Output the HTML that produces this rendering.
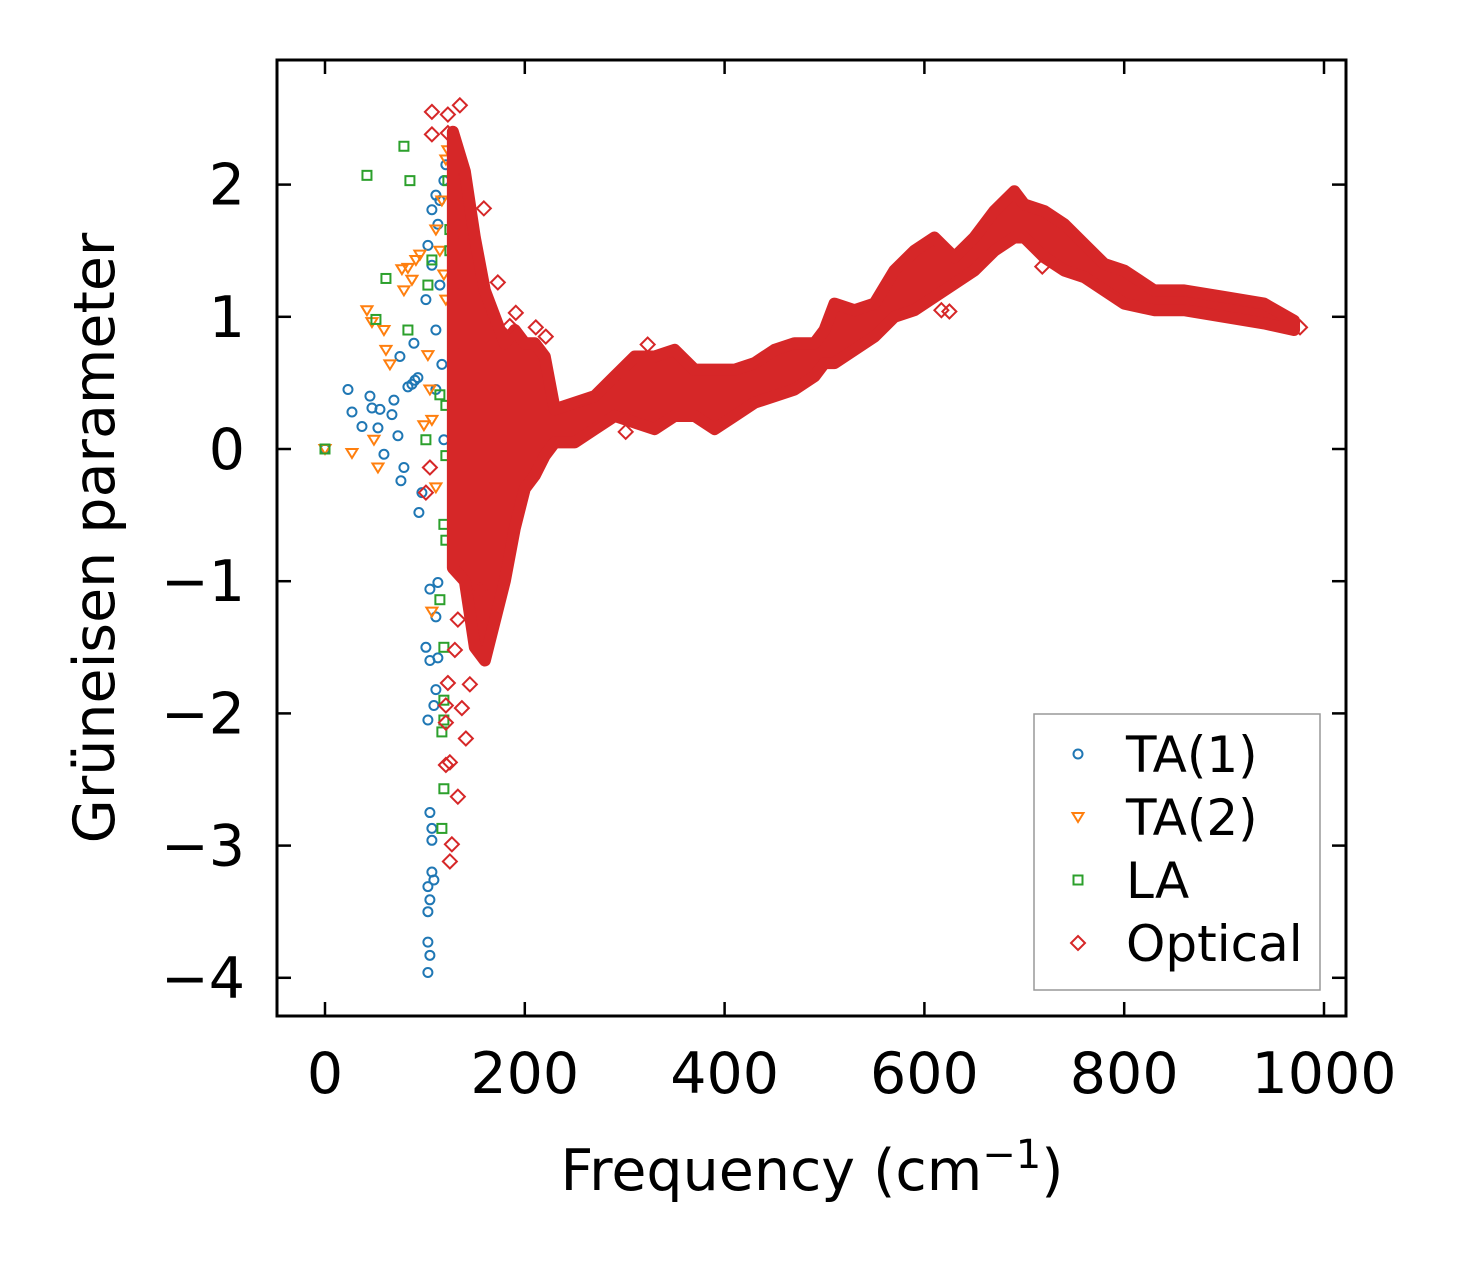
<!DOCTYPE html>
<html><head><meta charset="utf-8">
<style>
html,body{margin:0;padding:0;background:#fff;}
svg{display:block;font-family:"DejaVu Sans","Liberation Sans",sans-serif;}
</style></head>
<body>
<svg id="chart" width="1458" height="1264" viewBox="0 0 1458 1264" xmlns="http://www.w3.org/2000/svg">
<rect x="0" y="0" width="1458" height="1264" fill="#fff"/>
<g id="marks"></g>
<g id="axes"></g>
</svg>
<script>
const xTicks=[0,200,400,600,800,1000];
const yTicks=[-4,-3,-2,-1,0,1,2];
const yTickLabels=["\u22124","\u22123","\u22122","\u22121","0","1","2"];
const ta1=[[0,0],[23,0.45],[27,0.28],[37,0.17],[45,0.4],[47,0.31],[55,0.3],[53,0.16],[59,-0.04],[67,0.26],[69,0.37],[75,0.7],[73,0.1],[79,-0.14],[76,-0.24],[83,0.47],[87,0.49],[90,0.52],[93,0.54],[89,0.8],[94,-0.48],[97,-0.33],[101,1.13],[103,1.54],[107,1.39],[107,1.81],[111,1.92],[113,1.7],[115,1.24],[117,0.64],[119,0.07],[105,-1.06],[113,-1.01],[111,-1.27],[101,-1.5],[105,-1.6],[113,-1.58],[111,-1.82],[103,-2.05],[109,-1.94],[105,-2.75],[107,-2.96],[109,-3.26],[103,-3.31],[105,-3.41],[103,-3.5],[103,-3.73],[105,-3.83],[103,-3.96],[107,-3.2],[107,-2.87],[111,0.45],[111,0.9],[115,1.88],[119,2.03],[121,2.15]];
const ta2=[[0,0],[27,-0.03],[42,1.05],[47,0.96],[53,-0.14],[49,0.07],[59,0.9],[61,0.75],[65,0.64],[77,1.36],[83,1.37],[79,1.2],[87,1.28],[91,1.43],[95,1.47],[99,0.18],[103,0.71],[105,0.45],[107,-1.23],[111,-0.29],[111,1.66],[115,1.5],[119,1.32],[121,2.19],[123,2.26],[121,1.13],[117,1.88],[107,0.22]];
const la=[[0,0],[42,2.07],[79,2.29],[85,2.03],[61,1.29],[51,0.98],[83,0.9],[103,1.24],[107,1.43],[101,0.07],[115,0.41],[121,0.33],[121,-0.05],[119,-0.57],[121,-0.69],[119,-1.5],[119,-1.9],[119,-2.05],[117,-2.14],[119,-2.57],[117,-2.87],[125,1.66],[125,1.5],[123,2.03],[115,-1.14]];
const opticalFreq=[128,140,150,160,170,180,190,200,210,220,230,250,270,290,310,330,350,370,390,410,430,450,470,490,500,510,530,550,570,590,610,630,650,670,690,700,720,740,760,780,800,830,860,900,940,970];
const opticalLow=[-0.9,-1.0,-1.5,-1.6,-1.3,-1.0,-0.6,-0.3,-0.2,-0.05,0.05,0.05,0.15,0.25,0.2,0.15,0.25,0.25,0.15,0.25,0.35,0.4,0.45,0.55,0.65,0.65,0.75,0.85,1.0,1.05,1.15,1.25,1.35,1.5,1.6,1.6,1.45,1.35,1.3,1.2,1.1,1.05,1.05,1.0,0.95,0.9];
const opticalHigh=[2.4,2.1,1.6,1.2,1.0,0.8,0.9,0.8,0.8,0.7,0.3,0.35,0.4,0.55,0.7,0.7,0.75,0.6,0.6,0.6,0.65,0.75,0.8,0.8,0.9,1.1,1.05,1.1,1.35,1.5,1.6,1.45,1.6,1.8,1.95,1.85,1.8,1.7,1.55,1.4,1.35,1.2,1.2,1.15,1.1,0.97];
const opticalPts=[[107,2.55],[107,2.38],[123,2.39],[135,2.6],[123,2.53],[159,1.82],[173,1.26],[191,1.03],[185,0.93],[211,0.92],[221,0.85],[323,0.79],[301,0.13],[617,1.05],[625,1.04],[718,1.38],[976,0.92],[105,-0.14],[101,-0.33],[123,-1.77],[121,-1.94],[121,-2.07],[121,-2.39],[125,-2.37],[137,-1.96],[141,-2.19],[133,-2.63],[127,-2.99],[125,-3.12],[130,-1.52],[133,-1.29],[155,-1.07],[145,-1.78]];

const L=277,R=1346,T=60,B=1016;
const X=v=>325+v*0.999;
const Y=v=>449-v*132.2;
const NS="http://www.w3.org/2000/svg";
const C={ta1:"#1f77b4",ta2:"#ff7f0e",la:"#2ca02c",op:"#d62728"};
function mk(tag,attrs,parent){const e=document.createElementNS(NS,tag);for(const k in attrs)e.setAttribute(k,attrs[k]);parent.appendChild(e);return e;}
const marks=document.getElementById('marks');
const axes=document.getElementById('axes');
function marker(type,cx,cy,col,parent){
  let e;
  if(type==='c') e=mk('circle',{cx:cx,cy:cy,r:4.5,fill:'none',stroke:col,'stroke-width':2},parent);
  else if(type==='t') e=mk('polygon',{points:`${cx-5.5},${cy-4} ${cx+5.5},${cy-4} ${cx},${cy+5}`,fill:'none',stroke:col,'stroke-width':2},parent);
  else if(type==='s') e=mk('rect',{x:cx-4.5,y:cy-4.5,width:9,height:9,fill:'none',stroke:col,'stroke-width':2},parent);
  else e=mk('polygon',{points:`${cx},${cy-7} ${cx+7},${cy} ${cx},${cy+7} ${cx-7},${cy}`,fill:'none',stroke:col,'stroke-width':2},parent);
  return e;
}
const g1=mk('g',{},marks);


ta1.forEach(p=>{const e=marker('c',X(p[0]),Y(p[1]),C.ta1,g1);

});
const g2=mk('g',{},marks);


ta2.forEach(p=>{const e=marker('t',X(p[0]),Y(p[1]),C.ta2,g2);

});
const g3=mk('g',{},marks);


la.forEach(p=>{const e=marker('s',X(p[0]),Y(p[1]),C.la,g3);

});
const g4=mk('g',{},marks);


let pts=[];
opticalFreq.forEach((f,i)=>pts.push(X(f)+','+Y(opticalHigh[i])));
for(let i=opticalFreq.length-1;i>=0;i--)pts.push(X(opticalFreq[i])+','+Y(opticalLow[i]));
const band=mk('polygon',{points:pts.join(' '),fill:C.op,stroke:C.op,'stroke-width':12,'stroke-linejoin':'round'},g4);


opticalPts.forEach(p=>{const e=marker('d',X(p[0]),Y(p[1]),C.op,g4);

});

const fr=mk('rect',{x:L,y:T,width:R-L,height:B-T,fill:'none',stroke:'#000','stroke-width':3},axes);


xTicks.forEach(v=>{const x=X(v);
mk('line',{x1:x,y1:B,x2:x,y2:B-14,stroke:'#000','stroke-width':2.5},axes);
mk('line',{x1:x,y1:T,x2:x,y2:T+14,stroke:'#000','stroke-width':2.5},axes);
const t=mk('text',{x:x,y:1093,'font-size':57,'text-anchor':'middle',fill:'#000'},axes);t.textContent=v;

});
yTicks.forEach((v,i)=>{const y=Y(v);
mk('line',{x1:L,y1:y,x2:L+14,y2:y,stroke:'#000','stroke-width':2.5},axes);
mk('line',{x1:R,y1:y,x2:R-14,y2:y,stroke:'#000','stroke-width':2.5},axes);
const t=mk('text',{x:245,y:y+20,'font-size':57,'text-anchor':'end',fill:'#000'},axes);t.textContent=yTickLabels[i];

});
const xl=mk('text',{x:812,y:1190,'font-size':57,'text-anchor':'middle',fill:'#000'},axes);
xl.innerHTML='Frequency (cm<tspan dy="-22" font-size="40">\u22121</tspan><tspan dy="22">)</tspan>';


const yl=mk('text',{x:0,y:0,'font-size':57,'text-anchor':'middle',fill:'#000',transform:'translate(114,538) rotate(-90)'},axes);
yl.textContent='Grüneisen parameter';



const lg=mk('g',{},axes);


mk('rect',{x:1034,y:714,width:286,height:276,fill:'#fff','fill-opacity':0.8,stroke:'#999','stroke-width':1.5},lg);
const entries=[['c',C.ta1,'TA(1)',754],['t',C.ta2,'TA(2)',817],['s',C.la,'LA',880],['d',C.op,'Optical',943]];
entries.forEach(en=>{
const eg=mk('g',{},lg);


marker(en[0],1078,en[3],en[1],eg);
const t=mk('text',{x:1126,y:en[3]+18,'font-size':50,fill:'#000'},eg);t.textContent=en[2];
});
</script>
</body></html>
